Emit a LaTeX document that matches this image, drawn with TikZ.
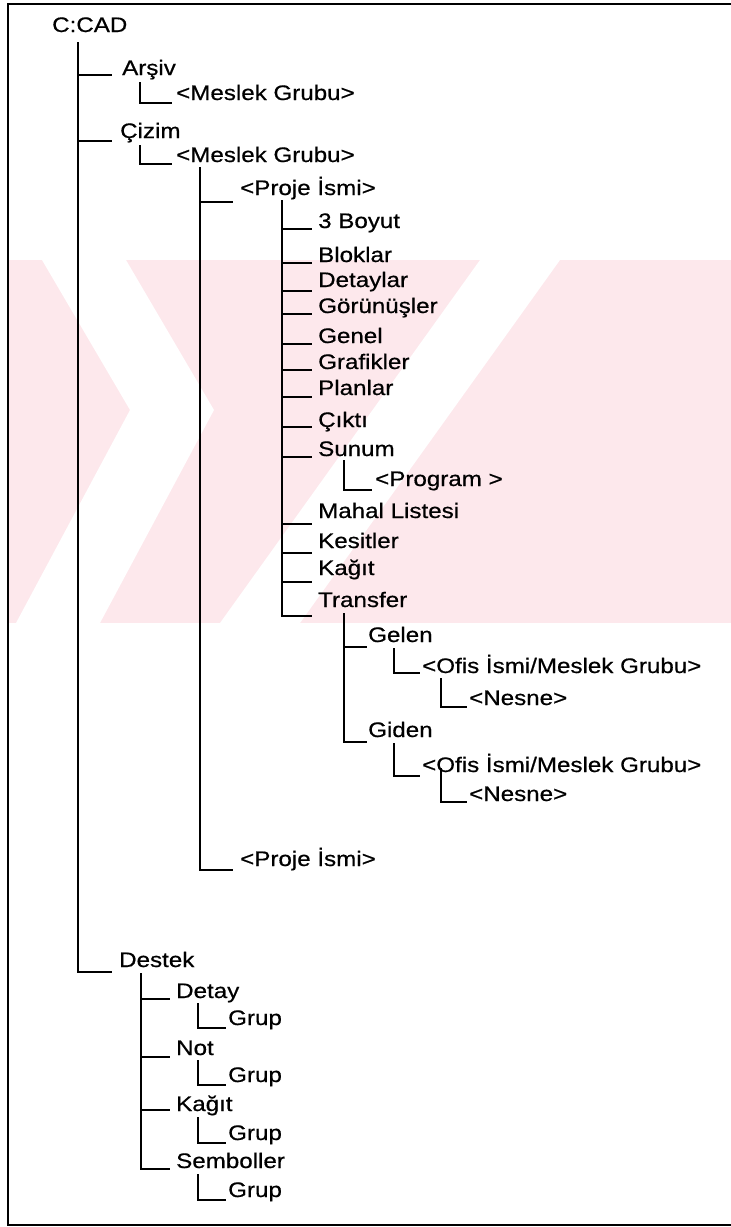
\documentclass[tikz,border=0pt]{standalone}
\usepackage{fontspec}
\setmainfont{Liberation Sans}[FakeStretch=1.15,FakeBold=0.6]
\definecolor{wmpink}{RGB}{253,232,236}
\begin{document}
\begin{tikzpicture}[x=1pt,y=-1pt,
  tx/.style={anchor=base west, inner sep=0pt, font=\fontsize{21}{21}\selectfont},
  ln/.style={line width=2pt},
  frame/.style={line width=2.2pt}]
\useasboundingbox (0,0) rectangle (731,1227);
% watermark
\begin{scope}
\clip (8,260) rectangle (731,623);
\fill[wmpink] (8,260) rectangle (731,623);
\fill[white] (42,260) -- (126,260) -- (214,410) -- (100,623) -- (16,623) -- (130,410) -- cycle;
\fill[white] (480,260) -- (560,260) -- (300,623) -- (220,623) -- cycle;
\end{scope}
\draw[frame] (731,4) -- (8,4) -- (8,1225) -- (731,1225);

% nodes
\node[tx] (cad) at (52,32) {C:CAD};
\node[tx] (arsiv) at (122,75) {Arşiv};
\node[tx] (mg1) at (176,100) {<Meslek Grubu>};
\node[tx] (cizim) at (120,138) {Çizim};
\node[tx] (mg2) at (176,162) {<Meslek Grubu>};
\node[tx] (pi1) at (240,195) {<Proje İsmi>};
\node[tx] (boyut) at (318,228) {3 Boyut};
\node[tx] (bloklar) at (318,262) {Bloklar};
\node[tx] (detaylar) at (318,287) {Detaylar};
\node[tx] (gorunus) at (318,313) {Görünüşler};
\node[tx] (genel) at (318,343) {Genel};
\node[tx] (grafik) at (318,369) {Grafikler};
\node[tx] (planlar) at (318,395) {Planlar};
\node[tx] (cikti) at (318,427) {Çıktı};
\node[tx] (sunum) at (318,456) {Sunum};
\node[tx] (program) at (375,486) {<Program >};
\node[tx] (mahal) at (318,518) {Mahal Listesi};
\node[tx] (kesit) at (318,548) {Kesitler};
\node[tx] (kagit) at (318,575) {Kağıt};
\node[tx] (transfer) at (318,607) {Transfer};
\node[tx] (gelen) at (368,642) {Gelen};
\node[tx] (ofis1) at (422,673) {<Ofis İsmi/Meslek Grubu>};
\node[tx] (nesne1) at (469,705) {<Nesne>};
\node[tx] (giden) at (368,737) {Giden};
\node[tx] (ofis2) at (422,772) {<Ofis İsmi/Meslek Grubu>};
\node[tx] (nesne2) at (469,801) {<Nesne>};
\node[tx] (pi2) at (240,866) {<Proje İsmi>};
\node[tx] (destek) at (119,967) {Destek};
\node[tx] (detay) at (176,998) {Detay};
\node[tx] (grup1) at (228,1025) {Grup};
\node[tx] (not) at (176,1055) {Not};
\node[tx] (grup2) at (228,1082) {Grup};
\node[tx] (kagit2) at (176,1111) {Kağıt};
\node[tx] (grup3) at (228,1140) {Grup};
\node[tx] (semb) at (176,1168) {Semboller};
\node[tx] (grup4) at (228,1197) {Grup};

% branch origins
\coordinate (r0) at (78,42);
\coordinate (r1) at (140,82);
\coordinate (r2) at (140,145);
\coordinate (r3) at (200,167);
\coordinate (r4) at (282,200);
\coordinate (r5) at (344,460);
\coordinate (r6) at (344,613);
\coordinate (r7) at (394,648);
\coordinate (r8) at (441,678);
\coordinate (r9) at (394,743);
\coordinate (r10) at (441,768);
\coordinate (r11) at (141,973);
\coordinate (r12) at (198,1003);
\coordinate (r13) at (198,1060);
\coordinate (r14) at (198,1117);
\coordinate (r15) at (198,1174);

% connectors
\draw[ln] (r0) |- ([xshift=-10pt]arsiv.base west);
\draw[ln] (r0) |- ([xshift=-8pt,yshift=-3pt]cizim.base west);
\draw[ln] (r0) |- ([xshift=-7pt,yshift=-5pt]destek.base west);
\draw[ln] (r1) |- ([xshift=-4pt,yshift=-3pt]mg1.base west);
\draw[ln] (r2) |- ([xshift=-4pt,yshift=-2pt]mg2.base west);
\draw[ln] (r3) |- ([xshift=-7pt,yshift=-7pt]pi1.base west);
\draw[ln] (r3) |- ([xshift=-7pt,yshift=-4pt]pi2.base west);
\draw[ln] (r4) |- ([xshift=-6pt,yshift=-1pt]boyut.base west);
\draw[ln] (r4) |- ([xshift=-6pt,yshift=-1pt]bloklar.base west);
\draw[ln] (r4) |- ([xshift=-6pt,yshift=-4pt]detaylar.base west);
\draw[ln] (r4) |- ([xshift=-6pt,yshift=-1pt]gorunus.base west);
\draw[ln] (r4) |- ([xshift=-6pt,yshift=-1pt]genel.base west);
\draw[ln] (r4) |- ([xshift=-6pt,yshift=-1pt]grafik.base west);
\draw[ln] (r4) |- ([xshift=-6pt,yshift=-2pt]planlar.base west);
\draw[ln] (r4) |- ([xshift=-6pt,yshift=0pt]cikti.base west);
\draw[ln] (r4) |- ([xshift=-6pt,yshift=-1pt]sunum.base west);
\draw[ln] (r4) |- ([xshift=-6pt,yshift=-6pt]mahal.base west);
\draw[ln] (r4) |- ([xshift=-6pt,yshift=-5pt]kesit.base west);
\draw[ln] (r4) |- ([xshift=-6pt,yshift=-7pt]kagit.base west);
\draw[ln] (r4) |- ([xshift=-6pt,yshift=-9pt]transfer.base west);
\draw[ln] (r5) |- ([xshift=-3pt,yshift=-4pt]program.base west);
\draw[ln] (r6) |- ([xshift=-1pt,yshift=-5pt]gelen.base west);
\draw[ln] (r6) |- ([xshift=-1pt,yshift=-5pt]giden.base west);
\draw[ln] (r7) |- ([xshift=-2pt,yshift=0pt]ofis1.base west);
\draw[ln] (r8) |- ([xshift=-2pt,yshift=-2pt]nesne1.base west);
\draw[ln] (r9) |- ([xshift=-2pt,yshift=-4pt]ofis2.base west);
\draw[ln] (r10) |- ([xshift=-2pt,yshift=-1pt]nesne2.base west);
\draw[ln] (r11) |- ([xshift=-6pt,yshift=-1pt]detay.base west);
\draw[ln] (r11) |- ([xshift=-6pt,yshift=-2pt]not.base west);
\draw[ln] (r11) |- ([xshift=-6pt,yshift=1pt]kagit2.base west);
\draw[ln] (r11) |- ([xshift=-6pt,yshift=-1pt]semb.base west);
\draw[ln] (r12) |- ([xshift=-2pt,yshift=-3pt]grup1.base west);
\draw[ln] (r13) |- ([xshift=-2pt,yshift=-3pt]grup2.base west);
\draw[ln] (r14) |- ([xshift=-2pt,yshift=-3pt]grup3.base west);
\draw[ln] (r15) |- ([xshift=-2pt,yshift=-3pt]grup4.base west);
\end{tikzpicture}
\end{document}
